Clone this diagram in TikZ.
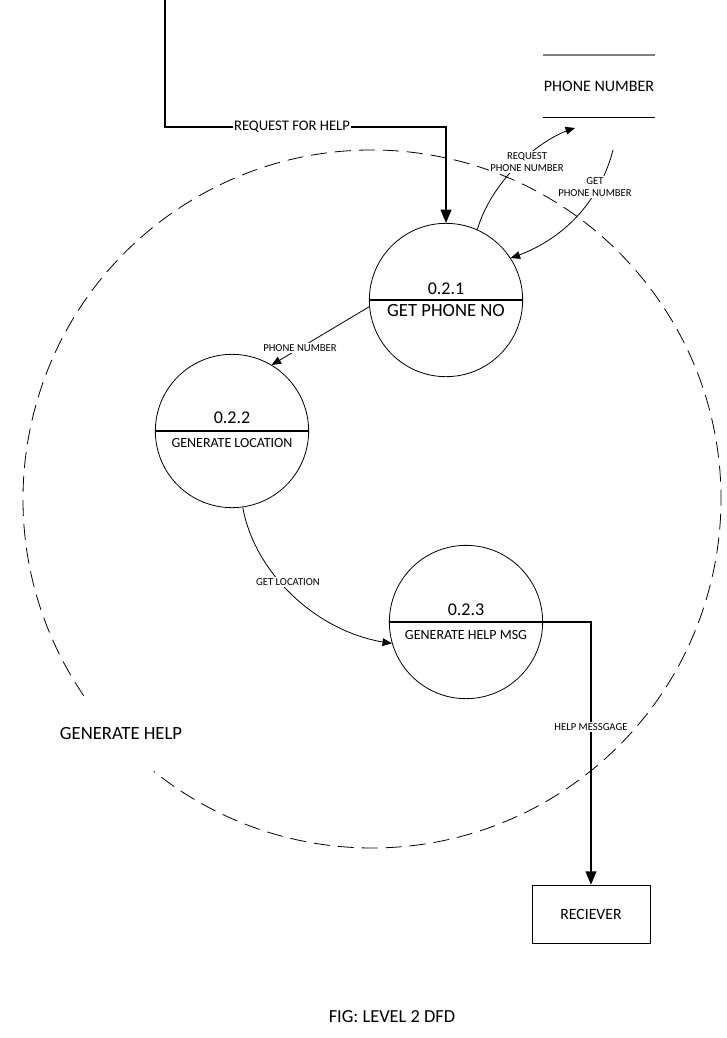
\documentclass[tikz,border=0pt]{standalone}
\usepackage{fontspec}
\setmainfont{Carlito}
\usepackage{tikz}
\usetikzlibrary{arrows,positioning}

\begin{document}
\begin{tikzpicture}[x=0.75pt,y=-0.75pt,
	proc/.style={draw,circle,minimum size=115pt,inner sep=0pt,line width=0.6pt},
	num/.style={font=\fontsize{13.5}{15}\selectfont,inner sep=1pt},
	ptitle/.style={font=\fontsize{14}{16}\selectfont,inner sep=1pt},
	ptsmall/.style={font=\fontsize{10.5}{12}\selectfont,inner sep=1pt},
	lbl/.style={fill=white,font=\fontsize{8}{9}\selectfont,inner sep=1pt,align=center},
	flow/.style={-triangle 45,line width=0.6pt},
	bigflow/.style={-triangle 45,line width=1.3pt}]
	\useasboundingbox (0,0) rectangle (726,1038);
	% boundary of the level 1 process
	\draw[line width=0.6pt,dash pattern=on 12pt off 6pt] (372,499) ++(145.7:349) arc[start angle=145.7,end angle=488.7,radius=349];
	\node[font=\fontsize{14}{16}\selectfont] (gh) at (121,733) {GENERATE HELP};
	% processes
	\node[proc] (p1) at (446,300) {};
	\node[proc] (p2) at (232,431) {};
	\node[proc] (p3) at (466,622) {};
	\draw[line width=1.3pt] (p1.west) -- (p1.east);
	\draw[line width=1.3pt] (p2.west) -- (p2.east);
	\draw[line width=1.3pt] (p3.west) -- (p3.east);
	\node[num] (n1) at (446,289) {0.2.1};
	\node[ptitle] (t1) at (446,311) {GET PHONE NO};
	\node[num] (n2) at (232,418) {0.2.2};
	\node[ptsmall] (t2) at (232,443) {GENERATE LOCATION};
	\node[num] (n3) at (466,610) {0.2.3};
	\node[ptsmall] (t3) at (466,635) {GENERATE HELP MSG};
	% store and terminal
	\node[minimum width=84pt,minimum height=46.5pt,inner sep=0pt,font=\fontsize{12}{14}\selectfont] (store) at (599,86) {PHONE NUMBER};
	\draw[gray,line width=1.2pt] (store.north west) -- (store.north east);
	\draw[line width=0.8pt] (store.south west) -- (store.south east);
	\node[draw,minimum width=88.5pt,minimum height=43.5pt,inner sep=0pt,font=\fontsize{11.8}{13}\selectfont,line width=0.6pt] (recv) at (591,914) {RECIEVER};
	\node[font=\fontsize{13.8}{15}\selectfont] (fig) at (392,1017) {FIG: LEVEL 2 DFD};
	% flows
	\coordinate (src) at (165,0);
	\coordinate (turn) at (446,127);
	\coordinate (req) at (575,128);
	\coordinate (get) at (613,150);
	\draw[bigflow] (src) |- (turn) node[lbl,font=\fontsize{11}{12}\selectfont,pos=0.726] (l1) {REQUEST FOR HELP} -- (p1.north);
	\draw[flow] (p1.66) .. controls (490,185) and (535,140) .. (req);
	\node[lbl] (l2) at (527,162) {REQUEST\\PHONE NUMBER};
	\draw[flow] (get) .. controls (600,200) and (565,240) .. (p1.33);
	\node[lbl] (l3) at (595,187) {GET\\PHONE NUMBER};
	\draw[flow] (p1.185) -- (p2.59) node[lbl,pos=0.71] (l4) {PHONE NUMBER};
	\draw[flow] (p2.-82) .. controls (255,575) and (320,635) .. (p3.196);
	\node[lbl] (l5) at (288,582) {GET LOCATION};
	\draw[bigflow] (p3.east) -| (recv.north) node[lbl,pos=0.70] (l6) {HELP MESSGAGE};
\end{tikzpicture}
\end{document}
